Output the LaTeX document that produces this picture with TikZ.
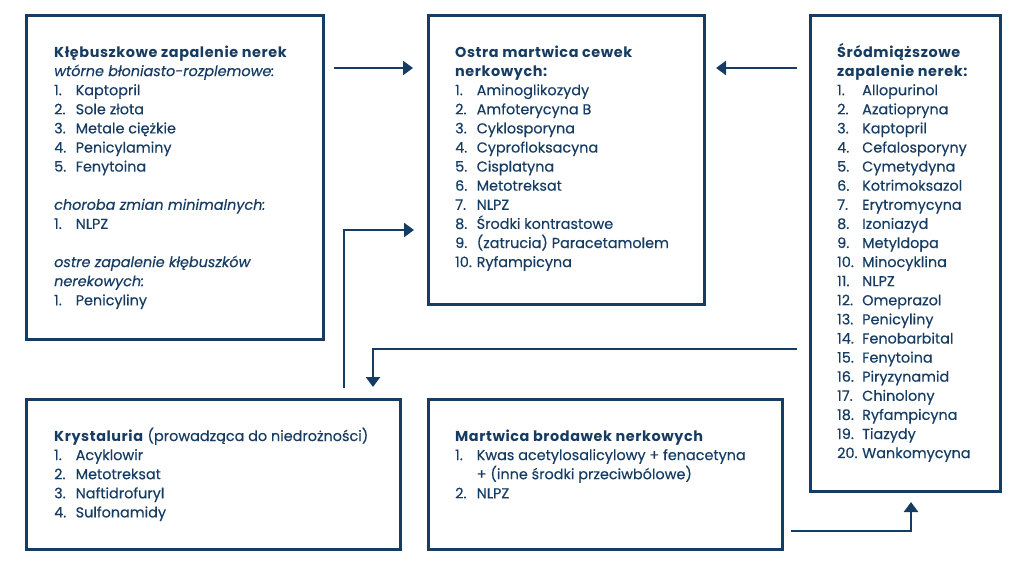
\documentclass[tikz,border=0pt]{standalone}
\usepackage{fontspec}
\setmainfont{Poppins}[UprightFeatures={FakeBold=0.35},ItalicFeatures={FakeBold=0.35},BoldFeatures={LetterSpace=4}]
\usetikzlibrary{arrows.meta}
\definecolor{navy}{RGB}{22,60,99}
\newcommand\itm[2]{\makebox[21.5pt][l]{#1}#2}
\newcommand\itmw[2]{\makebox[25pt][l]{#1}#2}
\begin{document}
\begin{tikzpicture}[x=1pt,y=-1pt,
  boxs/.style={draw=navy,line width=2.6pt,inner sep=0pt,anchor=north west},
  txt/.style={anchor=base west,inner sep=0pt,text=navy,font=\fontsize{14.4}{19.1}\selectfont},
  conn/.style={draw=navy,line width=2.4pt},
  arr/.style={conn,-{Triangle[width=14pt,length=10pt]}}]
\useasboundingbox (0,0) rectangle (1024,565);
% boxes
\node[boxs,minimum width=297pt,minimum height=324pt] (b1) at (25,14) {};
\node[boxs,minimum width=276pt,minimum height=289pt] (b2) at (427,14) {};
\node[boxs,minimum width=190pt,minimum height=476pt] (b3) at (809,14) {};
\node[boxs,minimum width=374pt,minimum height=150pt] (b4) at (25,398) {};
\node[boxs,minimum width=354pt,minimum height=150pt] (b5) at (427,398) {};
% texts
\node[txt] (t1) at (54,57) {\parbox[t]{265pt}{\baselineskip=19.1pt
\textbf{Kłębuszkowe zapalenie nerek}\\
\textit{wtórne błoniasto-rozplemowe:}\\
\itm{1.}{Kaptopril}\\
\itm{2.}{Sole złota}\\
\itm{3.}{Metale ciężkie}\\
\itm{4.}{Penicylaminy}\\
\itm{5.}{Fenytoina}\\[19.1pt]
\textit{choroba zmian minimalnych:}\\
\itm{1.}{NLPZ}\\[19.1pt]
\textit{ostre zapalenie kłębuszków}\\
\textit{nerekowych:}\\
\itm{1.}{Penicyliny}\par}};
\node[txt] (t2) at (455,57) {\parbox[t]{245pt}{\baselineskip=19.1pt
\textbf{Ostra martwica cewek}\\
\textbf{nerkowych:}\\
\itm{1.}{Aminoglikozydy}\\
\itm{2.}{Amfoterycyna B}\\
\itm{3.}{Cyklosporyna}\\
\itm{4.}{Cyprofloksacyna}\\
\itm{5.}{Cisplatyna}\\
\itm{6.}{Metotreksat}\\
\itm{7.}{NLPZ}\\
\itm{8.}{Środki kontrastowe}\\
\itm{9.}{(zatrucia) Paracetamolem}\\
\itm{10.}{Ryfampicyna}\par}};
\node[txt] (t3) at (837,57) {\parbox[t]{160pt}{\baselineskip=19.1pt
\textbf{Śródmiąższowe}\\
\textbf{zapalenie nerek:}\\
\itmw{1.}{Allopurinol}\\
\itmw{2.}{Azatiopryna}\\
\itmw{3.}{Kaptopril}\\
\itmw{4.}{Cefalosporyny}\\
\itmw{5.}{Cymetydyna}\\
\itmw{6.}{Kotrimoksazol}\\
\itmw{7.}{Erytromycyna}\\
\itmw{8.}{Izoniazyd}\\
\itmw{9.}{Metyldopa}\\
\itmw{10.}{Minocyklina}\\
\itmw{11.}{NLPZ}\\
\itmw{12.}{Omeprazol}\\
\itmw{13.}{Penicyliny}\\
\itmw{14.}{Fenobarbital}\\
\itmw{15.}{Fenytoina}\\
\itmw{16.}{Piryzynamid}\\
\itmw{17.}{Chinolony}\\
\itmw{18.}{Ryfampicyna}\\
\itmw{19.}{Tiazydy}\\
\itmw{20.}{Wankomycyna}\par}};
\node[txt] (t4) at (54,441) {\parbox[t]{340pt}{\baselineskip=19.1pt
\textbf{Krystaluria} (prowadząca do niedrożności)\\
\itm{1.}{Acyklowir}\\
\itm{2.}{Metotreksat}\\
\itm{3.}{Naftidrofuryl}\\
\itm{4.}{Sulfonamidy}\par}};
\node[txt] (t5) at (455,441) {\parbox[t]{320pt}{\baselineskip=19.1pt
\textbf{Martwica brodawek nerkowych}\\
\itm{1.}{Kwas acetylosalicylowy + fenacetyna}\\
\hspace*{21.5pt}+ (inne środki przeciwbólowe)\\
\itm{2.}{NLPZ}\par}};
% connector coordinates
\coordinate (a1s) at (334,68);
\coordinate (a1e) at (413,68);
\coordinate (a2s) at (797,68);
\coordinate (a2e) at (716,68);
\coordinate (a3s) at (344,388);
\coordinate (a3m) at (344,230);
\coordinate (a3e) at (414,230);
\coordinate (a4s) at (797,349);
\coordinate (a4m) at (373,349);
\coordinate (a4e) at (373,387);
\coordinate (a5s) at (791,531);
\coordinate (a5m) at (911,531);
\coordinate (a5e) at (911,502);
\draw[arr] (a1s) -- (a1e);
\draw[arr] (a2s) -- (a2e);
\draw[arr] (a3s) -- (a3m) -- (a3e);
\draw[arr] (a4s) -- (a4m) -- (a4e);
\draw[arr] (a5s) -- (a5m) -- (a5e);
\end{tikzpicture}
\end{document}
